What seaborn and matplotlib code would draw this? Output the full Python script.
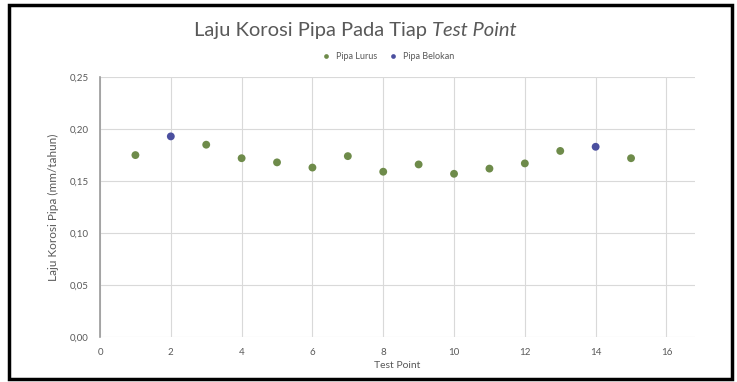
import numpy as np
import pandas as pd
import matplotlib
matplotlib.use("Agg")
import matplotlib.pyplot as plt
from matplotlib.patches import Rectangle
import seaborn as sns

# --------------------------------
# Data
# --------------------------------
test_point = [1, 2, 3, 4, 5, 6, 7, 8, 9, 10, 11, 12, 13, 14, 15]
laju_korosi = [0.175, 0.193, 0.185, 0.172, 0.168, 0.163, 0.174, 0.159, 0.166,
               0.157, 0.162, 0.167, 0.179, 0.183, 0.172]
jenis_pipa = ["Pipa Lurus", "Pipa Belokan", "Pipa Lurus", "Pipa Lurus", "Pipa Lurus",
              "Pipa Lurus", "Pipa Lurus", "Pipa Lurus", "Pipa Lurus", "Pipa Lurus",
              "Pipa Lurus", "Pipa Lurus", "Pipa Lurus", "Pipa Belokan", "Pipa Lurus"]
x_ticks = [0, 2, 4, 6, 8, 10, 12, 14, 16]
y_ticks = [0.00, 0.05, 0.10, 0.15, 0.20, 0.25]
y_tick_labels = ["0,00", "0,05", "0,10", "0,15", "0,20", "0,25"]

df = pd.DataFrame({"Test Point": test_point, "Laju Korosi": laju_korosi, "Jenis": jenis_pipa})

# --------------------------------
# Plot
# --------------------------------
sns.set_style("white")
plt.rcParams["font.family"] = ["Lato", "DejaVu Sans"]
txt = "#595959"

fig = plt.figure(figsize=(7.37, 3.82), dpi=100)
ax = fig.add_axes([0.1357, 0.118, 0.807, 0.680])

palette = {"Pipa Lurus": "#6e8b4a", "Pipa Belokan": "#4b4f9f"}
sns.scatterplot(data=df, x="Test Point", y="Laju Korosi", hue="Jenis",
                hue_order=["Pipa Lurus", "Pipa Belokan"], palette=palette,
                s=32, edgecolor="none", ax=ax, zorder=3)

ax.set_xlim(0, 16.8)
ax.set_ylim(0, 0.25)
ax.set_xticks(x_ticks)
ax.set_yticks(y_ticks)
ax.set_yticklabels(y_tick_labels)
ax.tick_params(axis="both", labelsize=7, colors=txt, length=0, pad=8)
ax.grid(True, color="#d9d9d9", linewidth=0.8)
for s in ["top", "right", "bottom"]:
    ax.spines[s].set_visible(False)
ax.spines["left"].set_color("#9a9a9a")
ax.spines["left"].set_linewidth(1.2)

ax.set_xlabel("Test Point", fontsize=7.5, color=txt, labelpad=3)
ax.set_ylabel("Laju Korosi Pipa (mm/tahun)", fontsize=8.5, color=txt, labelpad=8)

# title: normal part + italic "Test Point", centred as one line
renderer = fig.canvas.get_renderer()
t1 = fig.text(0, 0.92, "Laju Korosi Pipa Pada Tiap ", fontsize=14.5, color=txt,
              ha="left", va="center")
t2 = fig.text(0, 0.92, "Test Point", fontsize=14.5, color=txt, style="italic",
              ha="left", va="center")
w1 = t1.get_window_extent(renderer).width / fig.bbox.width
w2 = t2.get_window_extent(renderer).width / fig.bbox.width
x0 = 355 / 737 - (w1 + w2) / 2
t1.set_x(x0)
t2.set_x(x0 + w1)

leg = ax.legend(loc="lower center", bbox_to_anchor=(0.48, 1.03), ncol=2, frameon=False,
                fontsize=6.5, handletextpad=0.1, columnspacing=0.8, markerscale=0.6)
for t in leg.get_texts():
    t.set_color(txt)

# black frame around the chart
fig.patches.append(Rectangle((9 / 737, 3 / 382), 723 / 737, 374 / 382, transform=fig.transFigure,
                             fill=False, edgecolor="black", linewidth=2.5, zorder=10))

fig.savefig("out.png", dpi=100)
